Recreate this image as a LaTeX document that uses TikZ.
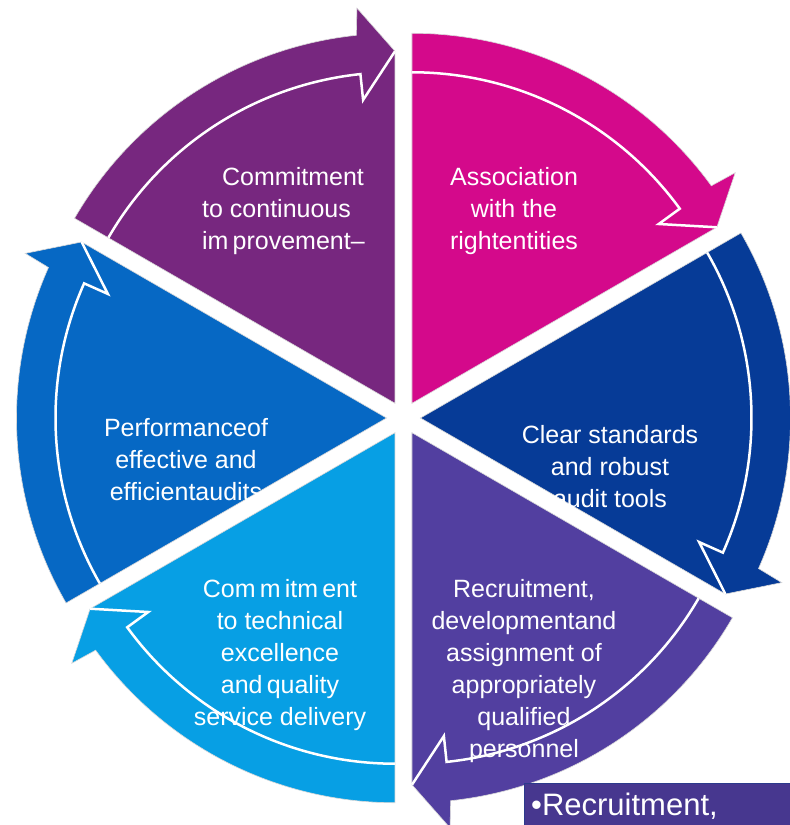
\documentclass[tikz,border=0pt]{standalone}
\usepackage{fontspec}
\setmainfont{Liberation Sans}
\definecolor{cMag}{HTML}{D4098B}
\definecolor{cNavy}{HTML}{063B97}
\definecolor{cViolet}{HTML}{523FA0}
\definecolor{cCyan}{HTML}{079FE4}
\definecolor{cBlue}{HTML}{0668C4}
\definecolor{cPurple}{HTML}{77277F}
\definecolor{cBox}{HTML}{47378F}
\definecolor{cBoxLine}{HTML}{2C3A8C}
\begin{document}
\begin{tikzpicture}[x=1pt,y=1pt]
\useasboundingbox (-403.5,-407) rectangle (386.5,418);
\tikzset{
  sect/.style={draw=black!15, line width=0.6pt},
  innerline/.style={draw=white, line width=2.5pt},
  lbl/.style={text=white, font=\fontsize{25}{32}\selectfont, align=center, inner sep=0pt, anchor=base}
}
\foreach \k/\col in {0/cMag,1/cNavy,2/cViolet,3/cCyan,4/cBlue,5/cPurple}{
  \begin{scope}[rotate=-60*\k, shift={(60:17)}]
    \path[fill=\col, sect] (0,0) -- (90:370) arc[start angle=90, end angle=36, radius=370pt]
      -- (35.5:397) -- (30:352) -- cycle;
    \draw[innerline] (90:331) arc[start angle=90, end angle=36, radius=331pt]
      -- (36:305) -- (30:352);
  \end{scope}
}
% anchor=base is the baseline of the last line
\node[lbl, align=left, anchor=base west] (t5) at (-201.5,168)
  {\hspace*{20pt}Commitment\\to continuous\\im\,provement–};
\node[lbl] (t0) at (110.5,168) {Association\\with the\\rightentities};
\node[lbl] (t1) at (206.5,-89) {Clear standards\\and robust\\audit tools};
\node[lbl] (t2) at (120.5,-339) {Recruitment,\\developmentand\\assignment of\\appropriately\\qualified\\personnel};
\node[lbl] (t3) at (-123.5,-307) {Com\,m\,itm\,ent\\to technical\\excellence\\and\,quality\\service delivery};
\node[lbl] (t4) at (-217.5,-82) {Performanceof\\effective and\\efficientaudits};
\path[fill=cBox, draw=cBoxLine, line width=1pt] (120.5,-365) rectangle (420,-440);
\node[text=white, font=\fontsize{31}{36}\selectfont, inner sep=0pt, anchor=base west] (box) at (127.5,-397) {•Recruitment,};
\end{tikzpicture}
\end{document}
